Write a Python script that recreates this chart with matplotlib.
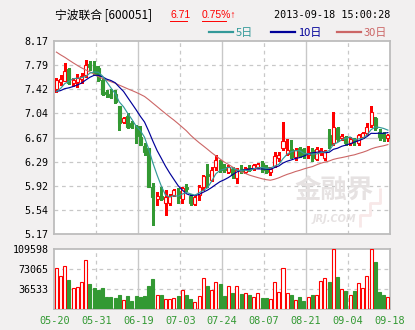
import numpy as np
import pandas as pd
import matplotlib
matplotlib.use('Agg')
import matplotlib.pyplot as plt

# axis labels
date_labels = ['05-20', '05-31', '06-19', '07-03', '07-24', '08-07', '08-21', '09-04', '09-18']
price_labels = ['5.17', '5.54', '5.92', '6.29', '6.67', '7.04', '7.42', '7.79', '8.17']
vol_labels = ['36533', '73065', '109598']

# closes before the first visible day (only feed the moving averages)
prev_close = [8.85, 8.85, 8.82, 8.82, 8.80, 8.78, 8.74, 8.70, 8.68, 8.65,
              8.30, 8.10, 8.00, 7.90, 7.82, 7.80, 7.70, 7.62, 7.55, 7.48,
              7.45, 7.40, 7.38, 7.36, 7.35, 7.33, 7.32, 7.34, 7.35]

opens = [7.42, 7.53, 7.55, 7.73, 7.51, 7.53, 7.58, 7.64, 7.81, 7.78,
         7.74, 7.56, 7.37, 7.35, 7.34, 7.16, 6.91, 7.01, 6.89, 6.85,
         6.68, 6.54, 6.50, 5.91, 5.72, 5.77, 5.65, 5.65, 5.78, 5.84,
         5.71, 5.91, 5.77, 5.64, 5.78, 5.91, 6.10, 6.01, 6.21, 6.31,
         6.21, 6.14, 6.18, 6.05, 6.18, 6.13, 6.20, 6.18, 6.21, 6.28,
         6.22, 6.13, 6.23, 6.35, 6.50, 6.41, 6.49, 6.37, 6.50, 6.49,
         6.40, 6.48, 6.34, 6.44, 6.35, 6.71, 6.58, 6.81, 6.67, 6.68,
         6.59, 6.63, 6.58, 6.68, 6.74, 6.86, 6.97, 6.76, 6.74, 6.66]
highs = [7.59, 7.64, 7.82, 7.74, 7.59, 7.65, 7.67, 7.87, 7.85, 7.85,
         7.78, 7.59, 7.40, 7.42, 7.41, 7.16, 6.99, 7.05, 6.92, 6.86,
         6.85, 6.58, 6.50, 5.97, 5.83, 5.91, 5.86, 5.79, 5.87, 5.89,
         5.91, 5.95, 5.79, 5.78, 5.93, 6.09, 6.26, 6.22, 6.40, 6.32,
         6.26, 6.24, 6.22, 6.19, 6.24, 6.22, 6.24, 6.26, 6.28, 6.30,
         6.24, 6.21, 6.44, 6.44, 6.91, 6.64, 6.63, 6.50, 6.52, 6.50,
         6.54, 6.50, 6.52, 6.50, 6.48, 6.80, 7.06, 6.83, 6.72, 6.69,
         6.68, 6.67, 6.73, 6.76, 6.89, 7.16, 6.99, 6.80, 6.76, 6.73]
lows = [7.37, 7.49, 7.54, 7.50, 7.47, 7.45, 7.51, 7.61, 7.72, 7.64,
        7.54, 7.33, 7.29, 7.28, 7.20, 6.78, 6.89, 6.81, 6.81, 6.58,
        6.55, 6.40, 5.91, 5.31, 5.62, 5.70, 5.47, 5.62, 5.76, 5.65,
        5.65, 5.84, 5.62, 5.62, 5.70, 5.86, 5.91, 5.99, 6.17, 6.14,
        6.14, 6.12, 6.05, 5.97, 6.12, 6.12, 6.15, 6.17, 6.19, 6.14,
        6.12, 6.09, 6.21, 6.30, 6.48, 6.40, 6.35, 6.32, 6.37, 6.35,
        6.35, 6.30, 6.32, 6.40, 6.32, 6.50, 6.55, 6.62, 6.63, 6.56,
        6.55, 6.55, 6.56, 6.66, 6.71, 6.84, 6.79, 6.63, 6.62, 6.62]
closes = [7.56, 7.58, 7.70, 7.51, 7.56, 7.59, 7.63, 7.79, 7.77, 7.65,
          7.56, 7.34, 7.34, 7.30, 7.22, 6.90, 6.97, 6.83, 6.83, 6.70,
          6.56, 6.45, 5.91, 5.75, 5.77, 5.71, 5.75, 5.76, 5.85, 5.73,
          5.88, 5.87, 5.65, 5.75, 5.91, 6.07, 6.07, 6.17, 6.32, 6.17,
          6.17, 6.22, 6.09, 6.17, 6.15, 6.19, 6.17, 6.24, 6.26, 6.17,
          6.13, 6.18, 6.39, 6.40, 6.61, 6.48, 6.37, 6.47, 6.39, 6.40,
          6.45, 6.35, 6.49, 6.48, 6.46, 6.55, 6.83, 6.64, 6.69, 6.59,
          6.64, 6.61, 6.71, 6.74, 6.84, 7.06, 6.81, 6.68, 6.66, 6.71]
volumes = [74283, 59670, 77937, 52972, 37750, 39577, 48710, 88896, 45666, 38359,
           34706, 38359, 21920, 21920, 20093, 25573, 15831, 23137, 14613, 23137,
           21920, 23746, 42012, 54799, 24964, 24964, 18266, 18266, 20093, 23746,
           34706, 25573, 18266, 12177, 23746, 56017, 42012, 34706, 48710, 45666,
           23746, 42012, 29226, 42012, 27400, 28617, 25573, 21920, 29226, 20702,
           20702, 18266, 49319, 31053, 74892, 29226, 25573, 16440, 21920, 14613,
           21920, 25573, 25573, 51146, 56626, 49319, 109598, 58452, 36533, 32879,
           25573, 32879, 47492, 38359, 60279, 109598, 85851, 31053, 25573, 21920]

RED = '#ff0000'
GREEN = '#339933'
BG = '#f2f0f0'
GRID = '#c8c8c8'
SPINE = '#bdbdbd'
MARK = '#e6e2e2'

x = np.arange(len(closes))
o = np.array(opens)
c = np.array(closes)
up = c >= o

all_close = pd.Series(prev_close + closes)
ma5 = all_close.rolling(5).mean().values[len(prev_close):]
ma10 = all_close.rolling(10).mean().values[len(prev_close):]
ma30 = all_close.rolling(30).mean().values[len(prev_close):]

fig = plt.figure(figsize=(4.15, 3.3), dpi=100, facecolor=BG)
ax = fig.add_axes([54.3 / 415, 1 - 234.3 / 330, 335.7 / 415, 193.6 / 330])
axv = fig.add_axes([54.3 / 415, 1 - 309 / 330, 335.7 / 415, 60 / 330])

mono = 'DejaVu Sans Mono'
cjk = ['Noto Sans CJK SC', 'DejaVu Sans']
narrow = ['Liberation Sans', 'DejaVu Sans']

for a in (ax, axv):
    a.set_facecolor('white')
    a.set_xlim(-0.5, 79.5)
    for s in a.spines.values():
        s.set_color(SPINE)
        s.set_linewidth(1.3)
    for k in range(1, 8):
        xv = -0.5 + 10 * k
        if k % 2 == 0:
            a.axvline(xv, color=GRID, lw=1.0, zorder=0)
        else:
            a.axvline(xv, color=GRID, lw=0.9, ls=(0, (3, 3)), zorder=0)
    a.tick_params(length=0, labelsize=7.2, colors='black', pad=4)

# price panel
ylev = np.linspace(5.17, 8.17, 9)
ax.set_ylim(5.17, 8.17)
for k, yv in enumerate(ylev[1:-1], start=1):
    if k == 4:
        ax.axhline(yv, color=GRID, lw=1.0, zorder=0)
    else:
        ax.axhline(yv, color=GRID, lw=0.9, ls=(0, (3, 3)), zorder=0)
ax.set_yticks(ylev)
ax.set_yticklabels(price_labels, family=mono)
ax.set_xticks([])

# watermark (site logo)
ax.text(0.95, 0.22, '金融界', transform=ax.transAxes, ha='right', va='center',
        fontsize=19, color=MARK, family=cjk, fontweight='bold', zorder=0.5)
ax.text(0.77, 0.08, 'JRJ.COM', transform=ax.transAxes, ha='left', va='center',
        fontsize=7, color=MARK, fontweight='bold', style='italic', zorder=0.5)
ax.plot([0.91, 0.91, 0.94, 0.94, 0.97, 0.97], [0.04, 0.10, 0.10, 0.16, 0.16, 0.24],
        transform=ax.transAxes, color='#f8e8e8', lw=2, zorder=0.5, solid_capstyle='butt')

colors = np.where(up, RED, GREEN)
ax.vlines(x, lows, highs, colors=colors, lw=1.0, zorder=2, antialiased=False)
body = np.where(np.abs(c - o) < 0.01, 0.01, c - o)
ax.bar(x, body, bottom=o, width=0.72, facecolor=np.where(up, 'white', GREEN),
       edgecolor=colors, linewidth=0.8, zorder=3)

ax.plot(x, ma30, color='#cc6666', lw=0.8, zorder=4)
ax.plot(x, ma10, color='#000099', lw=0.85, zorder=4)
ax.plot(x, ma5, color='#339999', lw=0.85, zorder=4)

# volume panel
axv.set_ylim(0, 109598)
axv.axhline(36533, color=GRID, lw=0.9, ls=(0, (3, 3)), zorder=0)
axv.axhline(73065, color=GRID, lw=0.9, ls=(0, (3, 3)), zorder=0)
axv.bar(x, volumes, width=0.72, facecolor=np.where(up, 'white', GREEN),
        edgecolor=colors, linewidth=0.8, zorder=3)
axv.set_yticks([36533, 73065, 109598])
axv.set_yticklabels(vol_labels, family=mono)
axv.set_xticks(np.arange(-0.5, 80, 10))
axv.set_xticklabels(date_labels, family=mono, color=GREEN, fontsize=7.4)
axv.tick_params(axis='x', pad=5)

# header
def px(xp, yp):
    return xp / 415, 1 - yp / 330

fig.text(*px(55, 15), '宁波联合 [600051]', fontsize=8.5, family=cjk, va='center', ha='left')
fig.text(*px(170, 15), '6.71', fontsize=7.5, family=narrow, color=RED, va='center', ha='left')
fig.text(*px(202, 15), '0.75%↑', fontsize=7.5, family=narrow, color=RED, va='center', ha='left')
fig.add_artist(plt.Line2D([170 / 415, 187 / 415], [1 - 20.5 / 330] * 2, color=RED, lw=0.7))
fig.add_artist(plt.Line2D([202 / 415, 226 / 415], [1 - 20.5 / 330] * 2, color=RED, lw=0.7))
fig.text(*px(390, 15), '2013-09-18 15:00:28', fontsize=7.3, family=mono, va='center', ha='right')

legend_items = [(209, '5日', '#339999'), (271, '10日', '#000099'), (337, '30日', '#cc6666')]
for lx, lab, col in legend_items:
    fig.add_artist(plt.Line2D([lx / 415, (lx + 24) / 415], [1 - 32 / 330] * 2, color=col, lw=1.6))
    fig.text(*px(lx + 27, 33), lab, fontsize=8, family=cjk, color=col, va='center', ha='left')

fig.savefig('out.png', dpi=100, facecolor=BG)
